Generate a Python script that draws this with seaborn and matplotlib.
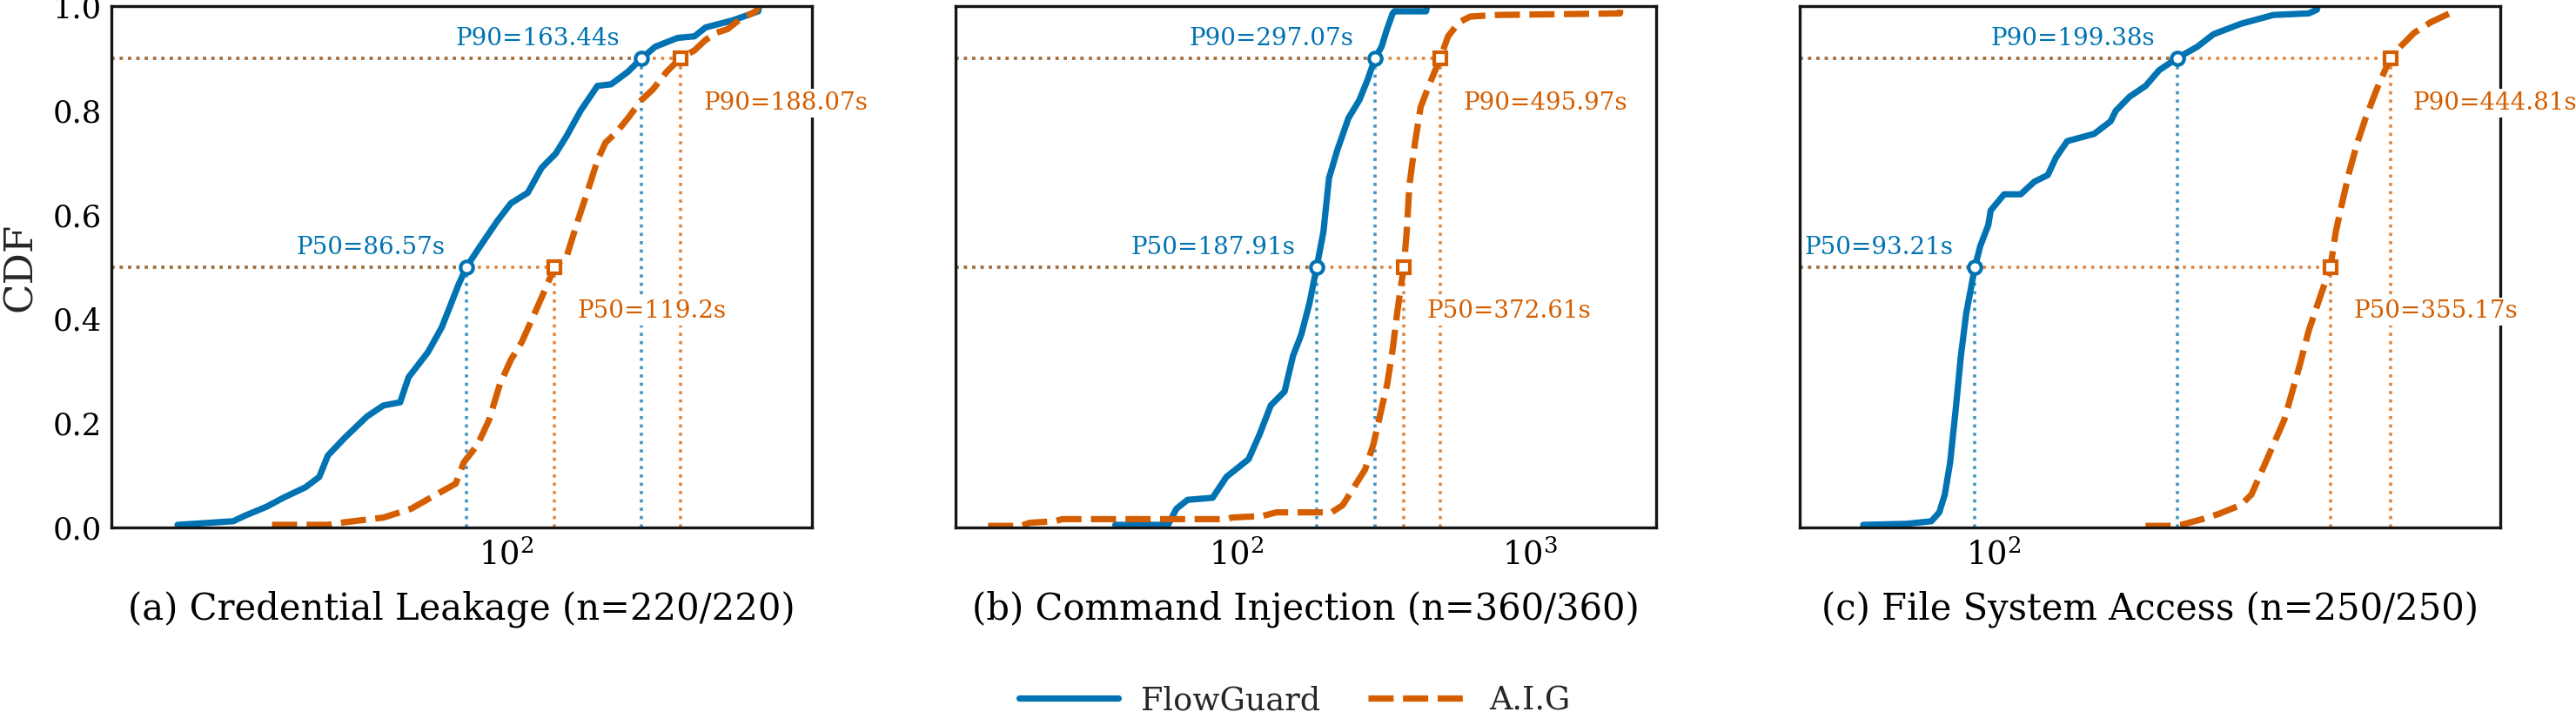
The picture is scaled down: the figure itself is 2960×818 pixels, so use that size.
import matplotlib
matplotlib.use("Agg")
import numpy as np
import pandas as pd
import matplotlib.pyplot as plt
import seaborn as sns
from matplotlib.lines import Line2D
from matplotlib.ticker import LogLocator, NullLocator, FixedLocator

# ---------------- data ----------------
panel_titles = ["(a) Credential Leakage (n=220/220)",
                "(b) Command Injection (n=360/360)",
                "(c) File System Access (n=250/250)"]
methods = ["FlowGuard", "A.I.G"]

# CDF knots: completion time (s) and cumulative fraction
cl_fg_t = [30.3, 37.1, 38.6, 41.9, 44.5, 48.2, 50.7, 52.3, 55.6, 60.3, 64.0, 68.0, 70.1, 75.2,
           79.1, 81.5, 84.0, 86.57, 91.0, 96.8, 101.7, 108.1, 113.7, 119.6, 124.5, 130.9,
           139.2, 146.3, 155.5, 163.44, 171.7, 186.2, 198.0, 206.1, 228.0, 249.6, 250.5]
cl_fg_p = [0.005, 0.012, 0.022, 0.040, 0.057, 0.077, 0.097, 0.138, 0.172, 0.213, 0.234, 0.240,
           0.288, 0.336, 0.384, 0.424, 0.465, 0.500, 0.540, 0.588, 0.622, 0.642, 0.690, 0.717,
           0.751, 0.799, 0.847, 0.850, 0.874, 0.900, 0.922, 0.939, 0.942, 0.959, 0.973, 0.990, 1.000]
cl_aig_t = [42.7, 52.3, 55.6, 64.0, 70.8, 76.7, 83.2, 85.7, 90.1, 93.9, 97.7, 101.7, 105.8,
            110.2, 114.7, 119.2, 124.5, 129.6, 133.6, 139.2, 143.3, 149.2, 155.5, 163.4, 170.2,
            179.0, 188.07, 198.0, 206.1, 214.6, 223.4, 232.6, 247.4, 250.0]
cl_aig_p = [0.005, 0.005, 0.010, 0.019, 0.036, 0.060, 0.084, 0.125, 0.159, 0.206, 0.275, 0.322,
            0.356, 0.404, 0.452, 0.500, 0.520, 0.588, 0.636, 0.704, 0.738, 0.758, 0.785, 0.820,
            0.840, 0.874, 0.900, 0.915, 0.935, 0.949, 0.956, 0.973, 0.990, 1.000]

ci_fg_t = [38.6, 58.4, 62.4, 68.1, 82.9, 92.4, 110.0, 120.0, 130.9, 146.0, 155.9, 166.4, 177.6,
           187.91, 198.0, 206.9, 220.9, 241.0, 262.8, 280.7, 297.07, 312.6, 326.5, 341.1, 346.0,
           443.6, 447.0]
ci_fg_p = [0.005, 0.005, 0.036, 0.053, 0.057, 0.097, 0.131, 0.179, 0.234, 0.261, 0.329, 0.370,
           0.431, 0.500, 0.567, 0.670, 0.724, 0.785, 0.820, 0.860, 0.900, 0.922, 0.956, 0.986,
           0.990, 0.990, 1.000]
ci_aig_t = [14.2, 18.4, 19.7, 23.9, 25.5, 92.4, 96.5, 122.6, 136.9, 211.2, 230.6, 251.6, 274.6,
            293.2, 306.3, 326.8, 341.5, 353.3, 364.5, 372.61, 380.9, 389.1, 406.7, 424.9, 453.1,
            495.97, 527.2, 575.2, 628.0, 781.0, 2037.0, 2040.0]
ci_aig_p = [0.003, 0.003, 0.009, 0.012, 0.016, 0.016, 0.019, 0.022, 0.029, 0.029, 0.043, 0.077,
            0.111, 0.159, 0.206, 0.275, 0.343, 0.411, 0.465, 0.500, 0.567, 0.656, 0.738, 0.806,
            0.847, 0.900, 0.942, 0.969, 0.980, 0.983, 0.986, 1.000]

fs_fg_t = [61.2, 72.1, 79.1, 81.5, 83.2, 84.9, 86.7, 88.4, 90.2, 93.21, 95.1, 98.0, 98.9, 104.0,
           110.7, 116.5, 122.6, 126.5, 131.9, 146.0, 155.3, 158.3, 166.7, 177.2, 186.4, 199.38,
           215.2, 228.7, 253.4, 286.6, 327.2, 337.5, 338.5]
fs_fg_p = [0.005, 0.007, 0.012, 0.029, 0.063, 0.125, 0.227, 0.329, 0.411, 0.500, 0.540, 0.580,
           0.608, 0.639, 0.639, 0.663, 0.676, 0.710, 0.741, 0.755, 0.779, 0.799, 0.826, 0.847,
           0.877, 0.900, 0.922, 0.946, 0.966, 0.983, 0.986, 0.993, 1.000]
fs_aig_t = [177.1, 192.3, 202.4, 219.4, 233.3, 253.4, 263.8, 275.0, 286.6, 298.4, 307.7, 317.1,
            327.2, 337.5, 355.17, 362.4, 369.9, 381.4, 393.0, 405.4, 422.6, 444.81, 462.0, 487.0,
            518.0, 556.0, 557.0]
fs_aig_p = [0.003, 0.003, 0.005, 0.016, 0.026, 0.043, 0.063, 0.111, 0.159, 0.206, 0.261, 0.315,
            0.377, 0.424, 0.500, 0.567, 0.615, 0.683, 0.738, 0.785, 0.840, 0.900, 0.922, 0.949,
            0.969, 0.986, 1.000]

fg_p50 = [86.57, 187.91, 93.21]
fg_p90 = [163.44, 297.07, 199.38]
aig_p50 = [119.2, 372.61, 355.17]
aig_p90 = [188.07, 495.97, 444.81]

# ---------------- style ----------------
sns.set_theme(style="white")
plt.rcParams["font.family"] = ["DejaVu Serif"]
plt.rcParams["mathtext.fontset"] = "dejavuserif"

colors = {"FlowGuard": "#0173B2", "A.I.G": "#D55E00"}
dashes = {"FlowGuard": "", "A.I.G": (4, 1.5)}
xlims = [(23.8, 303.0), (11.0, 2704.0), (48.2, 673.0)]

curves = [((cl_fg_t, cl_fg_p), (cl_aig_t, cl_aig_p)),
          ((ci_fg_t, ci_fg_p), (ci_aig_t, ci_aig_p)),
          ((fs_fg_t, fs_fg_p), (fs_aig_t, fs_aig_p))]
pcts = [((fg_p50[i], fg_p90[i]), (aig_p50[i], aig_p90[i])) for i in range(3)]

W, H = 2960, 818
fig = plt.figure(figsize=(W / 200, H / 200), dpi=200)
lefts = [127.6, 1098, 2068]
ax_w = 805 / W
ax_b = 1 - 606 / H
ax_h = 599 / H

for i in range(3):
    ax = fig.add_axes([lefts[i] / W, ax_b, ax_w, ax_h])
    rows = []
    for m, (t, p) in zip(methods, curves[i]):
        rows.append(pd.DataFrame({"t": t, "cdf": p, "method": m}))
    df = pd.concat(rows, ignore_index=True)
    ax.set_xscale("log")
    lo = xlims[i][0]

    # guide lines
    for m, (v50, v90) in zip(methods, pcts[i]):
        c = colors[m]
        ax.hlines([0.5, 0.9], lo, [v50, v90], colors=c, linestyles=":", lw=1.3,
                  alpha=0.75, zorder=1)
        ax.vlines([v50, v90], 0, [0.5, 0.9], colors=c, linestyles=":", lw=1.3,
                  alpha=0.75, zorder=1)

    sns.lineplot(data=df, x="t", y="cdf", hue="method", style="method",
                 palette=colors, dashes=dashes, estimator=None, sort=False,
                 lw=2.6, legend=False, ax=ax, zorder=3)

    for m, (v50, v90) in zip(methods, pcts[i]):
        c = colors[m]
        mk = "o" if m == "FlowGuard" else "s"
        ax.plot([v50, v90], [0.5, 0.9], ls="none", marker=mk, mfc="white", mec=c,
                ms=5.2, mew=1.5, zorder=5)
        for lab, v, y in (("P50", v50, 0.5), ("P90", v90, 0.9)):
            if m == "FlowGuard":
                off, ha = (-9, 8), "right"
            else:
                off, ha = (9.5, -18.5), "left"
            ax.annotate(f"{lab}={v:g}s", xy=(v, y), xytext=off, textcoords="offset points",
                        ha=ha, va="center", fontsize=10, color=c, zorder=10,
                        annotation_clip=False,
                        bbox=dict(boxstyle="square,pad=0.1", fc="white", ec="none"))

    ax.set_xlim(*xlims[i])
    ax.set_ylim(0, 1)
    ax.xaxis.set_major_locator(LogLocator(base=10))
    ax.xaxis.set_minor_locator(NullLocator())
    ax.yaxis.set_major_locator(FixedLocator([0, 0.2, 0.4, 0.6, 0.8, 1.0]))
    ax.tick_params(axis="both", length=0, colors="black", pad=4)
    ax.tick_params(axis="y", labelsize=12.7)
    ax.tick_params(axis="x", labelsize=13.3, pad=5)
    if i == 0:
        ax.set_ylabel("CDF", fontsize=16.3)
        ax.yaxis.set_label_coords((45 - 127.6) / 805, 0.5)
        ax.set_yticklabels(["0.0", "0.2", "0.4", "0.6", "0.8", "1.0"])
    else:
        ax.set_ylabel("")
        ax.set_yticklabels([])
    ax.set_xlabel("")
    for s in ax.spines.values():
        s.set_color("#151515")
        s.set_linewidth(1.2)
        s.set_zorder(6)
    ax.text(0.5, (606 - 700) / 599, panel_titles[i], transform=ax.transAxes,
            ha="center", va="center", fontsize=15, color="black")

handles = [Line2D([], [], color=colors["FlowGuard"], lw=2.6, ls="-"),
           Line2D([], [], color=colors["A.I.G"], lw=2.6, dashes=(4, 1.5))]
fig.legend(handles, methods, loc="center", bbox_to_anchor=(0.5027, 1 - 805 / H), ncol=2,
           frameon=False, fontsize=13.2, handlelength=3.1, handletextpad=0.7,
           columnspacing=1.5, borderpad=0)

fig.savefig("out.png", dpi=200)
